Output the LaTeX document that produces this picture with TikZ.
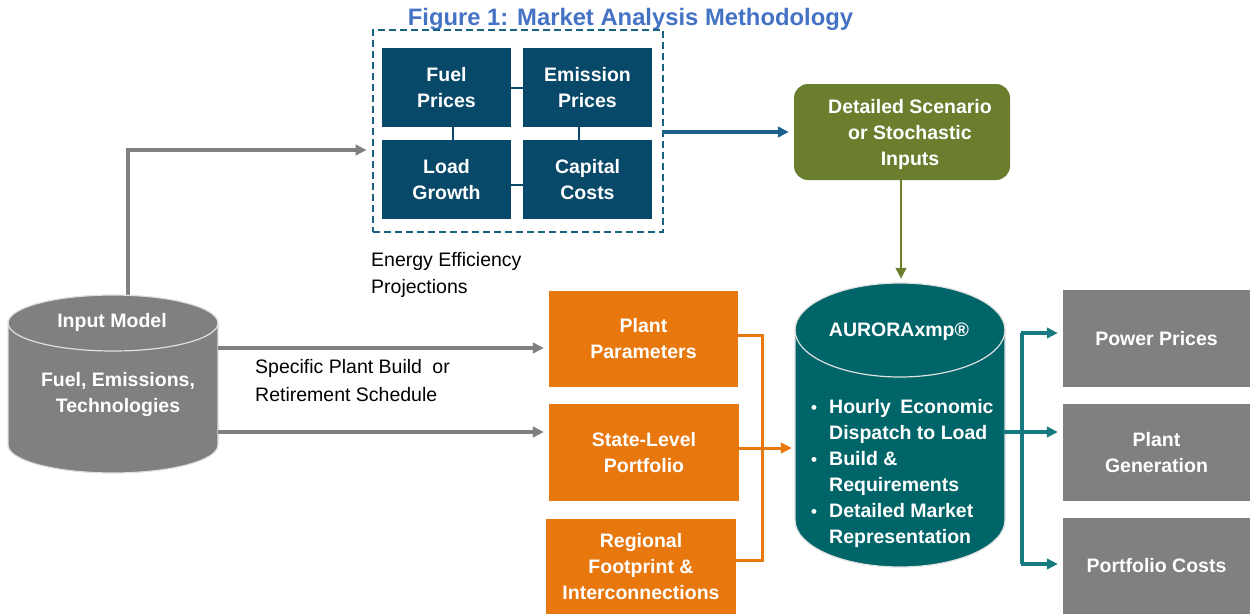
\documentclass[tikz,border=0pt]{standalone}
\usepackage{fontspec}
\setmainfont{Liberation Sans}
\usetikzlibrary{arrows.meta,calc}

\definecolor{navy}{RGB}{8,72,104}
\definecolor{frameteal}{RGB}{24,100,128}
\definecolor{linkblue}{RGB}{26,96,138}
\definecolor{olive}{RGB}{106,126,46}
\definecolor{orng}{RGB}{232,119,14}
\definecolor{deepteal}{RGB}{0,101,105}
\definecolor{arrowteal}{RGB}{22,122,128}
\definecolor{midgray}{RGB}{128,128,128}
\definecolor{titleblue}{RGB}{68,114,196}

\begin{document}
\begin{tikzpicture}[x=1pt,y=-1pt,
  lbl/.style={font=\fontsize{19.5}{26}\selectfont\bfseries, text=white, align=center},
  plain/.style={font=\fontsize{19.5}{27.5}\selectfont, text=black, align=left, inner sep=0},
  box/.style={lbl, inner sep=0, minimum width=#1},
  navybox/.style={box=129pt, fill=navy, minimum height=79pt},
  orangebox/.style={box=190pt, fill=orng, minimum height=96pt},
  graybox/.style={box=187pt, fill=midgray, minimum height=97pt},
  tip/.style={-{Triangle[length=11pt,width=10.5pt]}},
  grayarrow/.style={tip, draw=midgray, line width=3.8pt, shorten >=5pt},
  tealarrow/.style={tip, draw=arrowteal, line width=3.1pt, shorten >=5pt},
  tealline/.style={draw=arrowteal, line width=3.1pt},
  orangeline/.style={draw=orng, line width=3pt},
  linkline/.style={draw=navy, line width=2.6pt},
  cylline/.style={draw=white!88!black, line width=1.2pt}
]
\useasboundingbox (0,0) rectangle (1250,614);

% title
\node[font=\fontsize{23.8}{24}\selectfont\bfseries, text=titleblue, anchor=base, inner sep=0]
  (title) at (630.5,25) {Figure 1: Market Analysis Methodology};

% dashed frame with the four input boxes
\node[draw=frameteal, line width=2.9pt, dash pattern=on 7pt off 4pt,
      minimum width=290pt, minimum height=202pt, inner sep=0] (frame) at (518,131) {};
\node[navybox] (fuel) at (446.5,87.5) {Fuel\\Prices};
\node[navybox] (emis) at (587.5,87.5) {Emission\\Prices};
\node[navybox] (load) at (446.5,179.5) {Load\\Growth};
\node[navybox] (capc) at (587.5,179.5) {Capital\\Costs};
\draw[linkline] ([yshift=-0.5pt]fuel.east) -- ([yshift=-0.5pt]emis.west);
\draw[linkline] ([xshift=6.5pt]fuel.south) -- ([xshift=6.5pt]load.north);
\draw[linkline] ([xshift=-8.5pt]emis.south) -- ([xshift=-8.5pt]capc.north);
\draw[linkline] ([yshift=-5.5pt]load.east) -- ([yshift=-5.5pt]capc.west);

\node[plain, anchor=west] (eff) at (371,275) {Energy Efficiency\\Projections};

% scenario inputs
\node[lbl, fill=olive, rounded corners=14pt, minimum width=216pt, minimum height=96pt,
      inner sep=0, text width=200pt] (scen) at (902,132) {};
\node[lbl, inner sep=0] (scentext) at (910,134.5) {Detailed Scenario\\or Stochastic\\Inputs};

% input model cylinder
\coordinate (upturn) at ($(frame.west)+(0,19)$);
\node[minimum width=210pt, minimum height=178pt, inner sep=0] (input) at (113,384) {};
\draw[grayarrow] ([xshift=15pt,yshift=-4pt]input.north) |- (upturn);
\fill[midgray] (8,323) -- (8,445) arc[start angle=180,end angle=0,x radius=105,y radius=28]
  -- (218,323) arc[start angle=0,end angle=-180,x radius=105,y radius=28] -- cycle;
\draw[cylline] (8,323) -- (8,445) arc[start angle=180,end angle=0,x radius=105,y radius=28] -- (218,323);
\draw[cylline] (113,323) ellipse[x radius=105,y radius=28];
\node[lbl] (inputhead) at (112,322) {Input Model};
\node[lbl] (inputbody) at (118,394.5) {Fuel, Emissions,\\Technologies};

% plant side inputs
\node[orangebox, minimum width=189pt] (plant) at (643.5,339) {Plant\\Parameters};
\node[orangebox, minimum height=97pt] (state) at (644,452.5) {State-Level\\Portfolio};
\node[orangebox, minimum height=95pt] (region) at (641,566.5) {Regional\\Footprint \&\\Interconnections};

\coordinate (p1) at ($(plant.west)+(0,9)$);
\coordinate (p2) at ($(state.west)+(0,-20.5)$);
\draw[grayarrow] (input.east |- p1) -- (p1);
\draw[grayarrow] (input.east |- p2) -- (p2);
\node[plain, anchor=west] (sched) at (255,380.5) {Specific Plant Build\hspace{5pt} or\\Retirement Schedule};

% AURORA cylinder
\node[minimum width=210pt, minimum height=284pt, inner sep=0] (aurora) at (900,425) {};
\fill[deepteal] (795,330) -- (795,520) arc[start angle=180,end angle=0,x radius=105,y radius=47]
  -- (1005,330) arc[start angle=0,end angle=-180,x radius=105,y radius=47] -- cycle;
\draw[cylline] (795,330) -- (795,520) arc[start angle=180,end angle=0,x radius=105,y radius=47] -- (1005,330);
\draw[cylline] (900,330) ellipse[x radius=105,y radius=47];
\node[lbl] (aurorahead) at (899,332) {AURORAxmp®};
\newcommand{\blt}{\makebox[20pt][l]{\hspace*{2pt}{\fontsize{17}{17}\selectfont\textbullet}}}
\node[lbl, align=left, anchor=west, inner sep=0] (aurorabody) at (809,473)
  {\blt Hourly\hspace{4pt} Economic\\\hspace*{20pt}Dispatch to Load\\\blt Build \&\\\hspace*{20pt}Requirements\\\blt Detailed Market\\\hspace*{20pt}Representation};

% flows into AURORA
\draw[tealarrow, draw=linkblue] (frame.east |- scen.west) -- (scen.west);
\draw[tip, draw=olive, line width=2.8pt, shorten >=4pt] (scen.south -| 901,0) -- (aurora.north -| 901,0);
\draw[orangeline] ([yshift=4pt]plant.east) -- ++(24,0) |- ([yshift=6.5pt]region.east);
\draw[tip, draw=orng, line width=3pt, shorten >=3pt] ([yshift=4.5pt]state.east) -- (aurora.west |- 0,448);

% outputs
\node[graybox] (power) at (1156.5,338.5) {Power Prices};
\node[graybox] (gen) at (1156.5,452.5) {Plant\\Generation};
\node[graybox, minimum height=96pt] (cost) at (1156.5,566) {Portfolio Costs};

\coordinate (split) at (1022,432);
\coordinate (splittop) at (1022,333);
\coordinate (splitbot) at (1022,564);
\draw[tealarrow] ([xshift=-2pt]aurora.east |- split) -- (gen.west |- split);
\draw[tealline] (splittop) -- (splitbot);
\draw[tealarrow] ([xshift=-1.5pt]splittop) -- (power.west |- splittop);
\draw[tealarrow] ([xshift=-1.5pt]splitbot) -- (cost.west |- splitbot);
\end{tikzpicture}
\end{document}
